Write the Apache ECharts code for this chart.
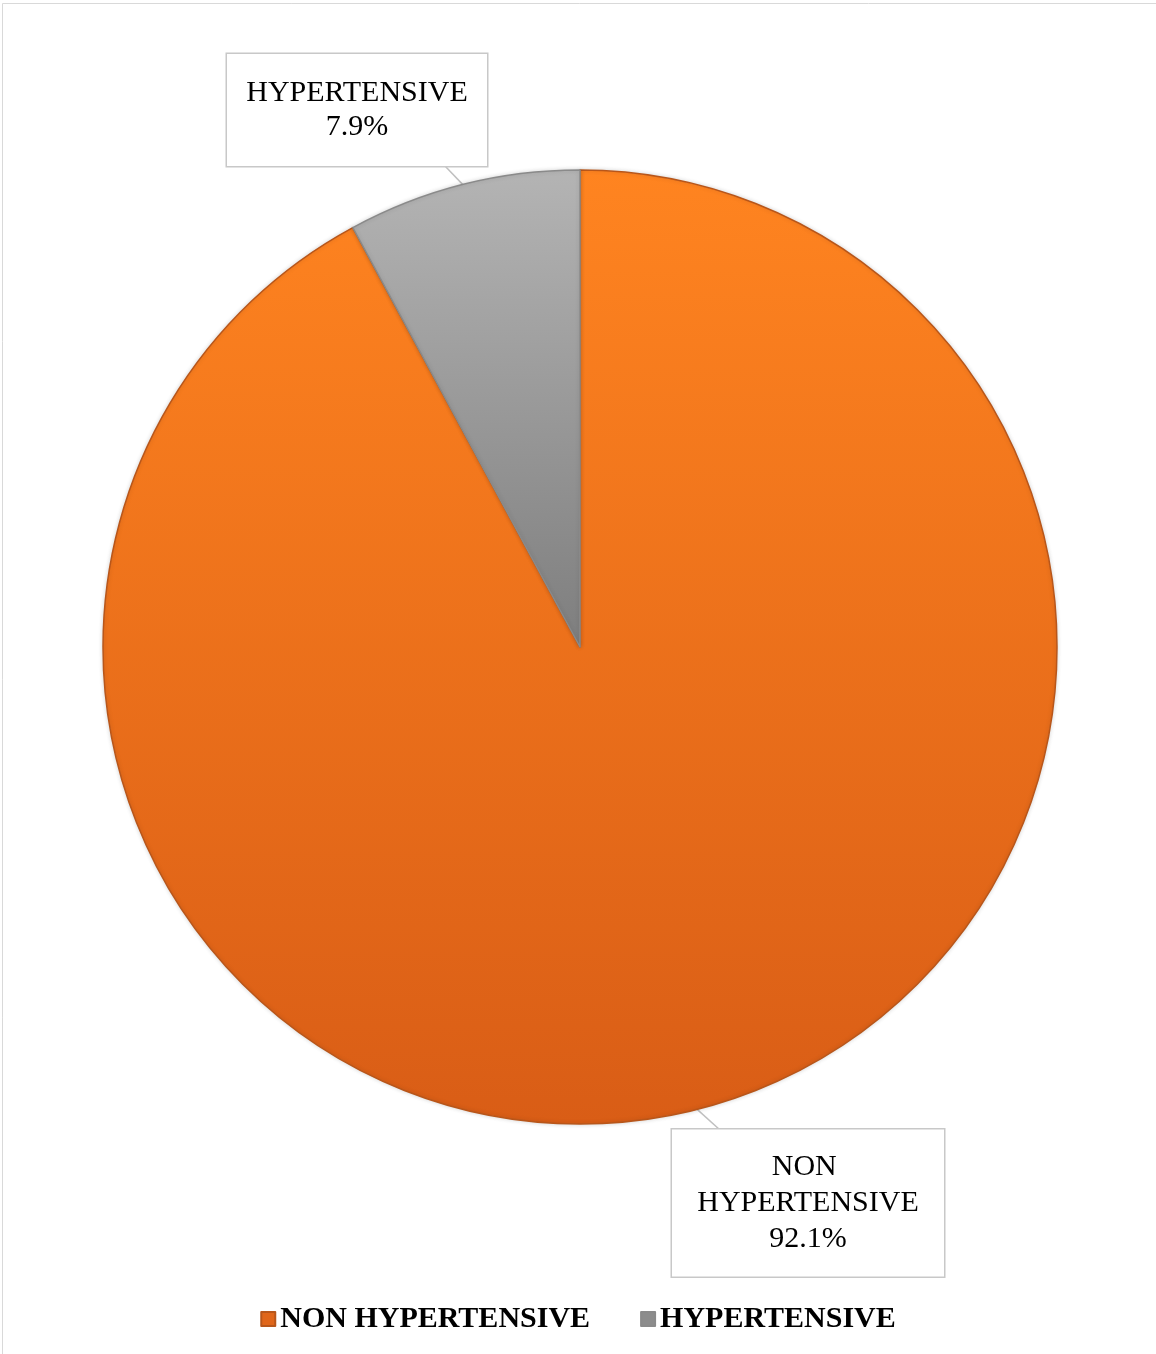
<!DOCTYPE html>
<html>
<head>
<meta charset="utf-8">
<script src="https://cdn.jsdelivr.net/npm/echarts@6/dist/echarts.min.js"></script>
<style>
  html, body { margin: 0; padding: 0; background: #fff; }
  #chart { width: 1156px; height: 1354px; }
</style>
</head>
<body>
<div id="chart"></div>
<script>
// categories and shares (percent)
var categories = ['NON HYPERTENSIVE', 'HYPERTENSIVE'];
var shares = [92.1, 7.9];

var fills = [
  new echarts.graphic.LinearGradient(0, 0, 0, 1, [
    { offset: 0, color: '#ff8420' },
    { offset: 1, color: '#d95d16' }
  ]),
  new echarts.graphic.LinearGradient(0, 0, 0, 1, [
    { offset: 0, color: '#b4b4b4' },
    { offset: 1, color: '#7e7e7e' }
  ])
];
var edges = ['#b8561a', '#8a8a8a'];
var legendIcons = ['#e0661a', '#8c8c8c'];

// where the callout boxes sit, and where their pointer meets the box edge
var boxPos = [[808, 1203], [357, 110]];
var pointerEnd = [[720, 1130], [445, 166]];

var serif = '"Liberation Serif", "DejaVu Serif", serif';

var chart = echarts.init(document.getElementById('chart'));

chart.setOption({
  backgroundColor: '#fff',
  animation: false,
  graphic: [{
    type: 'rect',
    shape: { x: 2.5, y: 3.5, width: 1160, height: 1360 },
    style: { fill: 'none', stroke: '#d9d9d9', lineWidth: 1 },
    silent: true
  }],
  legend: {
    bottom: 15,
    left: 'center',
    icon: 'rect',
    itemWidth: 14,
    itemHeight: 14,
    itemGap: 50,
    textStyle: { fontFamily: serif, fontWeight: 'bold', fontSize: 30, color: '#000' },
    data: categories.map(function (c, i) {
      return { name: c, itemStyle: { color: legendIcons[i] } };
    })
  },
  series: [{
    type: 'pie',
    center: [580, 647],
    radius: 477,
    startAngle: 90,
    clockwise: true,
    label: {
      show: true,
      formatter: function (p) { return p.name + '\n' + p.value + '%'; },
      fontFamily: serif,
      fontSize: 30,
      lineHeight: 36,
      color: '#000',
      align: 'center',
      backgroundColor: '#fff',
      borderColor: '#c8c8c8',
      borderWidth: 1.5,
      overflow: 'break'
    },
    labelLine: {
      show: true,
      length: 10,
      length2: 10,
      lineStyle: { color: '#c0c0c0', width: 1.5 }
    },
    labelLayout: function (params) {
      var i = params.dataIndex;
      var p = boxPos[i];
      var start = params.labelLinePoints ? params.labelLinePoints[0] : pointerEnd[i];
      return {
        x: p[0], y: p[1], align: 'center', verticalAlign: 'middle',
        labelLinePoints: [start, pointerEnd[i], pointerEnd[i]]
      };
    },
    data: categories.map(function (c, i) {
      var lbl = i === 0
        ? { width: 234, padding: [19, 19, 20, 19] }
        : { width: 224, padding: [22, 18, 22, 18], lineHeight: 34 };
      return {
        name: c,
        value: shares[i],
        itemStyle: {
          color: fills[i],
          borderColor: edges[i],
          borderWidth: 1.5,
          shadowColor: 'rgba(0,0,0,0.15)',
          shadowBlur: 4
        },
        label: lbl
      };
    })
  }]
});
</script>
</body>
</html>
